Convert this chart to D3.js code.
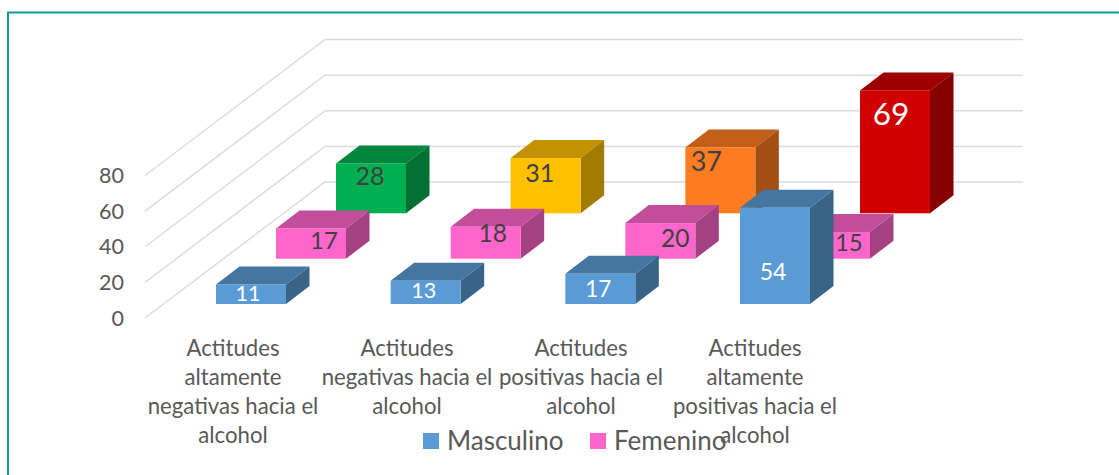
<!DOCTYPE html>
<html>
<head>
<meta charset="utf-8">
<script src="https://cdn.jsdelivr.net/npm/d3@7"></script>
<style>
html, body { margin: 0; padding: 0; background: #fff; }
svg { display: block; }
text { font-family: Lato, sans-serif; }
</style>
</head>
<body>
<script>
// Chart data
var categories = [
	["Actitudes", "altamente", "negativas hacia el", "alcohol"],
	["Actitudes", "negativas hacia el", "alcohol"],
	["Actitudes", "positivas hacia el", "alcohol"],
	["Actitudes", "altamente", "positivas hacia el", "alcohol"]
];
var masculino = [11, 13, 17, 54];
var femenino = [17, 18, 20, 15];
var total = [28, 31, 37, 69];
var yTicks = [0, 20, 40, 60, 80];
var legendNames = ["Masculino", "Femenino"];

// Face colours; the last series has one colour per category
var blue = "#5b9bd5";
var pink = "#ff66cc";
var totalColors = ["#00b050", "#ffc000", "#ff7c20", "#d00000"];

var width = 1119;
var height = 475;

var svg = d3.select("body")
	.append("svg")
		.attr("width", width)
		.attr("height", height);

// Teal frame, only the top and left edges are in the picture
svg.append("path")
	.attr("d", "M8,475V12.5H1119")
	.attr("fill", "none")
	.attr("stroke", "#0d9c9c")
	.attr("stroke-width", 2);

// The 3D look is an oblique projection: value goes up, depth goes up and right
var x = d3.scaleLinear().domain([0, 3]).range([216, 740]);
var y = d3.scaleLinear().domain([0, 80]).range([0, 142.5]);
var depth = d3.scaleLinear().domain([0, 3]).range([0, 1]);

var depthX = 180, depthY = 136;     // whole floor
var frontX = 145, frontY = 318;     // front left corner of the floor
var floorRight = 1023;
var barW = 70, barDX = 23.5, barDY = 18;
var rowX = [0, 60, 120];
var rowBase = [304, 258.7, 213.3];

// Walls: grid lines go along the side wall and then along the back
var grid = svg.append("g").attr("class", "grid");
grid.selectAll("path")
	.data(yTicks)
	.enter().append("path")
		.attr("d", function(d) {
			var y0 = frontY - y(d);
			return "M" + frontX + "," + y0 +
				"L" + (frontX + depth(3) * depthX) + "," + (y0 - depth(3) * depthY) +
				"H" + floorRight;
		})
		.attr("fill", "none")
		.attr("stroke", "#dcdcdc")
		.attr("stroke-width", 1.5);

svg.append("g").selectAll("text")
	.data(yTicks)
	.enter().append("text")
		.attr("x", 124)
		.attr("y", function(d) { return frontY - y(d); })
		.attr("dy", "0.35em")
		.attr("text-anchor", "end")
		.attr("fill", "#595959")
		.style("font-size", "21.5px")
		.text(function(d) { return d; });

var rows = [
	{ values: total, color: function(i) { return totalColors[i]; }, row: 2 },
	{ values: femenino, color: function() { return pink; }, row: 1 },
	{ values: masculino, color: function() { return blue; }, row: 0 }
];

function shade(c, k) {
	var r = d3.rgb(c);
	return d3.rgb(r.r * k, r.g * k, r.b * k).formatHex();
}

// Back row first so nearer bars cover it
rows.forEach(function(s) {
	s.values.forEach(function(v, i) {
		var x0 = x(i) + rowX[s.row];
		var base = rowBase[s.row];
		var top = base - y(v);
		var c = s.color(i);
		var bar = svg.append("g").attr("class", "bar");
		bar.append("polygon")
			.attr("points", [[x0, top], [x0 + barDX, top - barDY], [x0 + barW + barDX, top - barDY], [x0 + barW, top]].join(" "))
			.attr("fill", shade(c, 0.76));
		bar.append("polygon")
			.attr("points", [[x0 + barW, top], [x0 + barW + barDX, top - barDY], [x0 + barW + barDX, base - barDY], [x0 + barW, base]].join(" "))
			.attr("fill", shade(c, 0.64));
		bar.append("rect")
			.attr("x", x0)
			.attr("y", top)
			.attr("width", barW)
			.attr("height", base - top)
			.attr("fill", c);
	});
});

// Data labels, moved by hand in the original so each has its own spot
var labelPos = {
	0: { dx: [-3, -2, -2, -2], cy: [293, 290, 289, 272], size: [21.5, 21.5, 22.5, 23], fill: ["#fff", "#fff", "#fff", "#fff"] },
	1: { dx: [13, 7, 15, 14], cy: [241, 233, 238, 243], size: [24, 24.5, 24.5, 23.5], fill: ["#404040", "#404040", "#404040", "#404040"] },
	2: { dx: [-1, -6, -14, -4], cy: [176, 173, 162, 114], size: [25, 25, 27, 31.5], fill: ["#404040", "#404040", "#404040", "#fff"] }
};

rows.forEach(function(s) {
	var p = labelPos[s.row];
	svg.append("g").selectAll("text")
		.data(s.values)
		.enter().append("text")
			.attr("x", function(d, i) { return x(i) + rowX[s.row] + barW / 2 + p.dx[i]; })
			.attr("y", function(d, i) { return p.cy[i]; })
			.attr("dy", "0.35em")
			.attr("text-anchor", "middle")
			.attr("fill", function(d, i) { return p.fill[i]; })
			.style("font-size", function(d, i) { return p.size[i] + "px"; })
			.text(function(d) { return d; });
});

// Category labels
var catX = d3.scaleLinear().domain([0, 3]).range([233, 755]);
var catGroup = svg.append("g").selectAll("text")
	.data(categories)
	.enter().append("text")
		.attr("text-anchor", "middle")
		.attr("fill", "#595959")
		.style("font-size", "22.2px");
catGroup.selectAll("tspan")
	.data(function(d, i) { return d.map(function(t) { return { t: t, i: i }; }); })
	.enter().append("tspan")
		.attr("x", function(d) { return catX(d.i); })
		.attr("y", function(d, j) { return 348.5 + j * 29; })
		.attr("dy", "0.35em")
		.text(function(d) { return d.t; });

// Legend
var legendX = [423, 590];
var legendColors = [blue, pink];
var legend = svg.append("g").selectAll("g")
	.data(legendNames)
	.enter().append("g");
legend.append("rect")
	.attr("x", function(d, i) { return legendX[i]; })
	.attr("y", 433)
	.attr("width", 16)
	.attr("height", 16)
	.attr("fill", function(d, i) { return legendColors[i]; });
legend.append("text")
	.attr("x", function(d, i) { return legendX[i] + 24; })
	.attr("y", 441)
	.attr("dy", "0.35em")
	.attr("fill", "#595959")
	.style("font-size", "26px")
	.text(function(d) { return d; });
</script>
</body>
</html>
